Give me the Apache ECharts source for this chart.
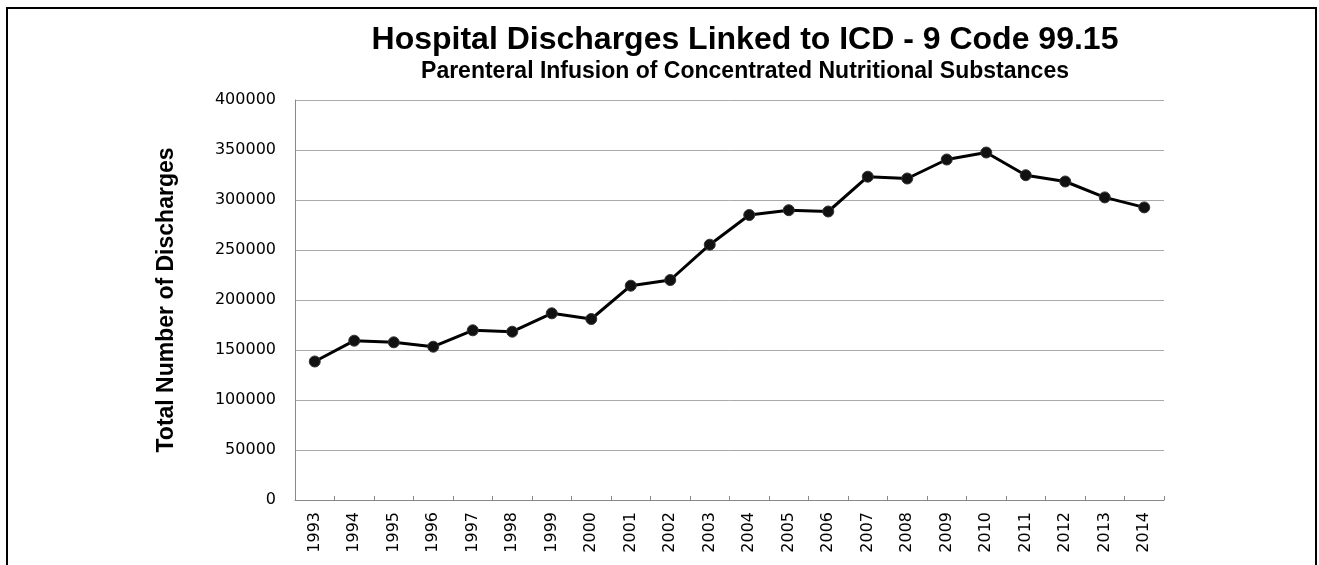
<!DOCTYPE html>
<html>
<head>
<meta charset="utf-8">
<script src="https://cdn.jsdelivr.net/npm/echarts@6/dist/echarts.min.js"></script>
<style>
html,body{margin:0;padding:0;background:#fff;}
#chart{width:1319px;height:565px;}
</style>
</head>
<body>
<div id="chart"></div>
<script>
const years = ['1993','1994','1995','1996','1997','1998','1999','2000','2001','2002','2003','2004','2005','2006','2007','2008','2009','2010','2011','2012','2013','2014'];
const discharges = [138500,159300,157700,153300,169700,168300,186700,181000,214300,220000,255300,285000,289800,288500,323300,321500,340500,347500,324800,318500,302600,292600];
const titleText = 'Hospital Discharges Linked to ICD - 9 Code 99.15';
const subtitleText = 'Parenteral Infusion of Concentrated Nutritional Substances';
const yAxisName = 'Total Number of Discharges';

const chart = echarts.init(document.getElementById('chart'));
chart.setOption({
  animation: false,
  backgroundColor: '#fff',
  title: {
    text: titleText,
    subtext: subtitleText,
    left: 740,
    textAlign: 'center',
    top: 19,
    itemGap: 4,
    textStyle: {fontFamily: 'Liberation Sans', fontWeight: 'bold', fontSize: 32, color: '#000'},
    subtextStyle: {fontFamily: 'Liberation Sans', fontWeight: 'bold', fontSize: 23, color: '#000'}
  },
  graphic: [{
    type: 'polyline',
    shape: {points: [[7,570],[7,8],[1316,8],[1316,570]]},
    style: {stroke: '#000', lineWidth: 2, fill: null},
    silent: true
  }],
  grid: {left: 295, right: 155, top: 100, bottom: 65},
  xAxis: {
    type: 'category',
    data: years,
    boundaryGap: true,
    axisLine: {lineStyle: {color: '#888', width: 1}},
    axisTick: {show: true, inside: true, length: 4, alignWithLabel: false, lineStyle: {color: '#888'}},
    axisLabel: {rotate: 90, interval: 0, margin: 12, fontFamily: 'DejaVu Sans', fontSize: 16, color: '#000'},
    splitLine: {show: false}
  },
  yAxis: {
    type: 'value',
    min: 0, max: 400000, interval: 50000,
    name: yAxisName,
    nameLocation: 'middle',
    nameGap: 117,
    nameTextStyle: {fontFamily: 'Liberation Sans', fontWeight: 'bold', fontSize: 23, color: '#000'},
    axisLine: {show: true, lineStyle: {color: '#888', width: 1}},
    axisTick: {show: false},
    axisLabel: {margin: 19, fontFamily: 'DejaVu Sans', fontSize: 16, color: '#000', formatter: function (v) { return String(v); }},
    splitLine: {show: true, lineStyle: {color: '#aaa', width: 1}}
  },
  series: [{
    type: 'line',
    data: discharges,
    symbol: 'circle',
    symbolSize: 11,
    itemStyle: {color: '#111', borderColor: '#333', borderWidth: 1},
    lineStyle: {color: '#000', width: 3},
    z: 5
  }]
});
</script>
</body>
</html>
